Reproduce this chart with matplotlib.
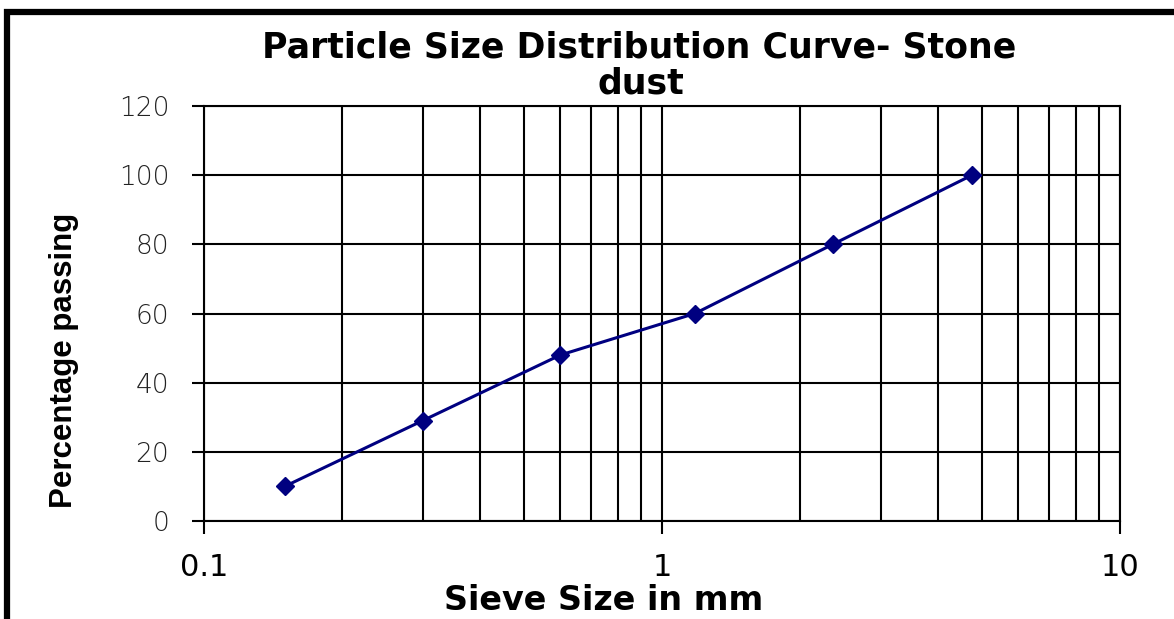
import matplotlib
matplotlib.use("Agg")
import matplotlib.pyplot as plt
from matplotlib.patches import Rectangle
from matplotlib.ticker import FixedLocator, NullFormatter, FixedFormatter

# Data
sieve_size_mm = [0.15, 0.3, 0.6, 1.18, 2.36, 4.75]
percent_passing = [10, 29, 48, 60, 80, 100]
y_ticks = [0, 20, 40, 60, 80, 100, 120]
x_major = [0.1, 1, 10]
x_major_labels = ["0.1", "1", "10"]
x_minor = [0.2, 0.3, 0.4, 0.5, 0.6, 0.7, 0.8, 0.9, 2, 3, 4, 5, 6, 7, 8, 9]
title_lines = ["Particle Size Distribution Curve- Stone", "dust"]
x_label = "Sieve Size in mm"
y_label = "Percentage passing"

W, H = 1174, 619
fig = plt.figure(figsize=(W / 100, H / 100), dpi=100)
fig.patch.set_facecolor("white")

ax = fig.add_axes([204 / W, 1 - 521 / H, (1120 - 204) / W, (521 - 106) / H])
ax.set_xscale("log")
ax.set_xlim(0.1, 10)
ax.set_ylim(0, 120)

ax.xaxis.set_major_locator(FixedLocator(x_major))
ax.xaxis.set_major_formatter(FixedFormatter(x_major_labels))
ax.xaxis.set_minor_locator(FixedLocator(x_minor))
ax.xaxis.set_minor_formatter(NullFormatter())
ax.set_yticks(y_ticks)

ax.grid(True, which="both", axis="x", color="black", linewidth=1.5)
ax.grid(True, which="major", axis="y", color="black", linewidth=1.5)
ax.set_axisbelow(True)

for sp in ax.spines.values():
    sp.set_color("black")
    sp.set_linewidth(1.5)

ax.tick_params(axis="both", which="major", direction="out", length=9, width=1.5, color="black")
ax.tick_params(axis="x", which="minor", length=0)
ax.tick_params(axis="y", labelsize=19, pad=16, labelcolor="#222222")
ax.tick_params(axis="x", labelsize=22, pad=14)
for lab in ax.get_yticklabels():
    lab.set_fontfamily("DejaVu Sans")
    lab.set_fontweight("light")
for lab in ax.get_xticklabels():
    lab.set_fontfamily("DejaVu Sans")

ax.plot(sieve_size_mm, percent_passing, color="#000080", linewidth=2.2,
        marker="D", markersize=9.5, markerfacecolor="#000080", markeredgecolor="#000080",
        zorder=5, clip_on=False)

fig.text(639 / W, 1 - 48 / H, title_lines[0], ha="center", va="center",
         fontsize=25, fontweight="bold", family="DejaVu Sans")
fig.text(641 / W, 1 - 83 / H, title_lines[1], ha="center", va="center",
         fontsize=25, fontweight="bold", family="DejaVu Sans")

fig.text(604 / W, 1 - 600 / H, x_label, ha="center", va="center",
         fontsize=24, fontweight="bold", family="DejaVu Sans")
fig.text(64 / W, 1 - 360 / H, y_label, ha="center", va="center", rotation=90,
         fontsize=22.5, fontweight="bold", family="Liberation Sans")

# Outer frame (cut off at right and bottom)
fig.patches.append(Rectangle((7, -50), W + 50, H - 12 + 50, transform=None,
                             fill=False, edgecolor="black", linewidth=4.5, figure=fig))

fig.savefig("out.png", dpi=100)
